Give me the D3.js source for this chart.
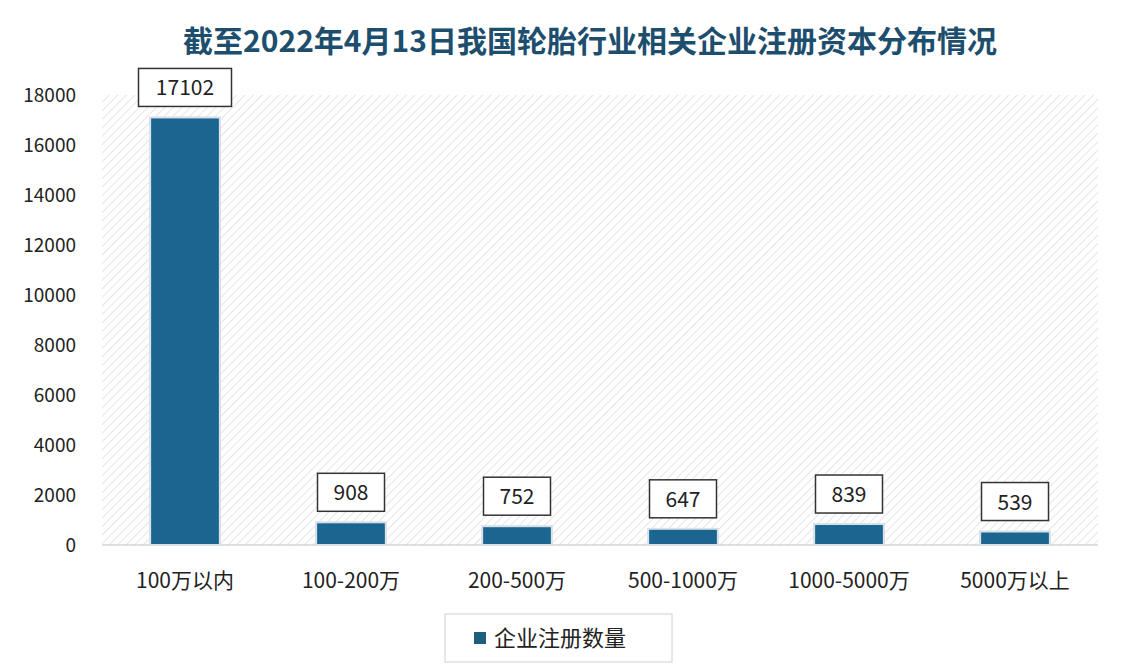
<!DOCTYPE html>
<html><head><meta charset="utf-8">
<script src="https://cdn.jsdelivr.net/npm/d3@7"></script>
<style>body{margin:0;background:#fff;font-family:"Noto Sans CJK SC","Noto Sans",sans-serif;}</style>
</head><body>
<svg id="chart" width="1126" height="670"></svg>
<script>
const categories = ["100万以内", "100-200万", "200-500万", "500-1000万", "1000-5000万", "5000万以上"];
const values = [17102, 908, 752, 647, 839, 539];
const yTicks = [0, 2000, 4000, 6000, 8000, 10000, 12000, 14000, 16000, 18000];

const svg = d3.select("#chart");
const mLeft = 102, mRight = 1098, mTop = 95, mBottom = 545;

// hatched plot background
const defs = svg.append("defs");
const pat = defs.append("pattern").attr("id", "hatch").attr("width", 6).attr("height", 6)
  .attr("patternUnits", "userSpaceOnUse").attr("patternTransform", "rotate(45)");
pat.append("line").attr("x1", 0).attr("y1", 0).attr("x2", 0).attr("y2", 6)
  .attr("stroke", "#dcdcdc").attr("stroke-width", 1.5);
svg.append("rect").attr("x", mLeft).attr("y", mTop).attr("width", mRight - mLeft).attr("height", mBottom - mTop)
  .attr("fill", "url(#hatch)");

// title
svg.append("text").attr("x", 590).attr("y", 52).attr("text-anchor", "middle")
  .attr("font-size", 30).attr("font-weight", "bold").attr("fill", "#1d4e6e")
  .attr("font-family", "'Noto Sans CJK SC'").text("截至2022年4月13日我国轮胎行业相关企业注册资本分布情况");

const x = d3.scaleBand().domain(categories).range([mLeft, mRight]).paddingInner(0.58).paddingOuter(0.29);
const y = d3.scaleLinear().domain([0, 18000]).range([mBottom, mTop]);

// y axis labels
svg.append("g").selectAll("text").data(yTicks).join("text")
  .attr("x", 76).attr("y", d => y(d) + 7).attr("text-anchor", "end")
  .attr("font-size", 19).attr("fill", "#222").text(d => d);

// baseline
svg.append("line").attr("x1", mLeft).attr("x2", mRight).attr("y1", mBottom).attr("y2", mBottom)
  .attr("stroke", "#bfbfbf");

// bars
svg.append("g").selectAll("rect").data(values).join("rect")
  .attr("x", (d, i) => x(categories[i]))
  .attr("y", d => y(d))
  .attr("width", x.bandwidth())
  .attr("height", d => mBottom - y(d))
  .attr("fill", "#1b6690").attr("stroke", "#d6e0e6").attr("stroke-width", 2);

// value labels in boxes
const lab = svg.append("g").selectAll("g").data(values).join("g")
  .attr("transform", (d, i) => `translate(${x(categories[i]) + x.bandwidth() / 2},${y(d) - 30})`);
lab.append("rect").attr("x", d => -(String(d).length * 6.5 + 14)).attr("y", -19)
  .attr("width", d => 2 * (String(d).length * 6.5 + 14)).attr("height", 38)
  .attr("fill", "#fff").attr("stroke", "#333").attr("stroke-width", 1.5);
lab.append("text").attr("y", 8).attr("text-anchor", "middle").attr("font-size", 21)
  .attr("fill", "#222").text(d => d);

// category labels
svg.append("g").selectAll("text").data(categories).join("text")
  .attr("x", d => x(d) + x.bandwidth() / 2).attr("y", 588).attr("text-anchor", "middle")
  .attr("font-size", 21).attr("fill", "#222").text(d => d);

// legend
svg.append("rect").attr("x", 445).attr("y", 614).attr("width", 227).attr("height", 48)
  .attr("fill", "#fff").attr("stroke", "#d0d0d0");
svg.append("rect").attr("x", 474).attr("y", 632).attr("width", 12).attr("height", 12).attr("fill", "#1f5f7e");
svg.append("text").attr("x", 494).attr("y", 646).attr("font-size", 22).attr("fill", "#222").text("企业注册数量");
</script>
</body></html>
